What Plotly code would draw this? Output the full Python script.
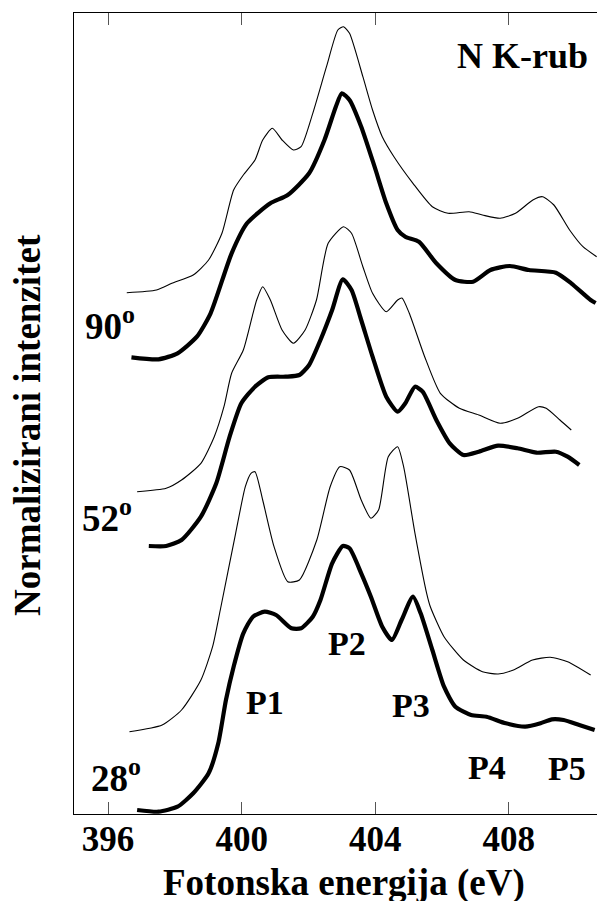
import plotly.graph_objects as go

# ---- data (photon energy in eV, normalized intensity with vertical offsets, arb. units) ----
e90_thin = [396.56, 397.45, 397.91, 398.55, 399.01, 399.41, 399.76, 400.05, 400.40, 400.63, 400.92, 401.21,
            401.55, 401.78, 402.13, 402.54, 402.88, 403.05, 403.23, 403.63, 403.92, 404.21, 404.56, 405.13,
            405.71, 406.18, 406.81, 407.21, 407.74, 408.20, 408.72, 409.01, 409.35, 409.82, 410.22, 410.63]
i90_thin = [521.3, 524.0, 530.7, 539.0, 554.0, 580.7, 624.0, 639.0, 654.0, 674.0, 685.7, 674.0,
            664.0, 667.3, 700.7, 747.3, 784.0, 787.3, 780.7, 737.3, 704.0, 677.3, 657.3, 630.7,
            607.3, 600.7, 602.3, 599.0, 595.7, 600.7, 614.0, 617.3, 609.0, 584.0, 567.3, 557.3]

e90_thick = [396.70, 397.51, 398.08, 398.66, 399.07, 399.70, 400.16, 400.86, 401.38, 402.02, 402.48, 402.82,
             403.00, 403.23, 403.58, 403.98, 404.33, 404.67, 404.90, 405.31, 405.83, 406.40, 406.93, 407.45,
             408.03, 408.60, 409.41, 409.87, 410.45, 410.60]
i90_thick = [456.7, 454.7, 460.7, 477.3, 500.7, 560.7, 590.7, 610.7, 619.0, 640.7, 674.0, 707.3,
             720.7, 714.0, 687.3, 647.3, 610.7, 584.0, 577.3, 572.3, 550.7, 534.0, 532.3, 544.0,
             548.0, 544.0, 541.3, 530.7, 514.0, 511.0]

e52_thin = [396.87, 397.74, 398.20, 398.78, 399.18, 399.47, 399.70, 400.05, 400.34, 400.45, 400.63, 400.86,
            401.21, 401.55, 401.90, 402.24, 402.59, 403.05, 403.29, 403.63, 403.92, 404.33, 404.67, 404.80,
            405.02, 405.48, 405.95, 406.52, 407.10, 407.74, 408.26, 408.89, 409.12, 409.53, 409.87]
i52_thin = [322.3, 325.7, 334.0, 350.7, 377.3, 407.3, 440.7, 464.0, 500.7, 514.0, 527.3, 514.0,
            484.0, 470.7, 484.0, 514.0, 570.7, 587.3, 580.7, 547.3, 520.7, 502.3, 514.0, 516.0,
            500.7, 457.3, 420.7, 405.7, 399.0, 390.7, 395.7, 407.3, 405.7, 394.0, 384.0]

e52_thick = [397.22, 397.74, 398.20, 398.78, 399.24, 399.64, 399.99, 400.40, 400.80, 401.32, 401.73, 402.02,
             402.36, 402.71, 403.03, 403.29, 403.58, 403.92, 404.33, 404.67, 404.90, 405.19, 405.42, 405.83,
             406.23, 406.64, 407.10, 407.68, 408.26, 408.83, 409.41, 409.76, 410.11]
i52_thick = [268.0, 268.0, 274.0, 297.3, 330.7, 377.3, 410.7, 427.3, 436.7, 437.3, 439.0, 449.0,
             474.0, 504.0, 534.7, 524.0, 494.0, 457.3, 417.3, 402.3, 410.7, 427.3, 422.3, 394.0,
             370.7, 359.0, 362.3, 368.3, 365.7, 361.3, 362.3, 357.3, 349.0]

e28_thin = [396.64, 397.62, 398.20, 398.78, 399.13, 399.36, 399.82, 400.11, 400.28, 400.40, 400.63, 400.97,
            401.38, 401.73, 402.25, 402.65, 402.94, 403.23, 403.58, 403.87, 404.10, 404.39, 404.67, 404.85,
            405.19, 405.54, 405.65, 406.06, 406.64, 407.21, 407.68, 408.14, 408.71, 409.24, 409.76, 410.45]
i28_thin = [82.3, 89.0, 104.0, 134.0, 167.3, 204.0, 280.7, 327.3, 340.7, 342.3, 314.0, 267.3,
            232.3, 234.0, 274.0, 327.3, 347.3, 344.0, 314.0, 295.7, 304.0, 357.3, 367.3, 347.3,
            280.7, 220.7, 207.3, 177.3, 154.0, 142.3, 140.0, 144.0, 154.0, 156.7, 152.3, 139.0]

e28_thick = [396.87, 397.51, 398.08, 398.55, 399.01, 399.30, 399.53, 399.76, 400.05, 400.34, 400.69, 401.03,
             401.49, 401.78, 402.13, 402.36, 402.71, 403.03, 403.23, 403.58, 403.87, 404.21, 404.50, 404.79,
             405.13, 405.36, 405.71, 406.06, 406.40, 406.87, 407.33, 407.91, 408.49, 408.95, 409.29, 409.64,
             410.11, 410.57]
i28_thick = [4.0, 2.3, 7.3, 20.7, 40.7, 70.7, 114.0, 147.3, 180.7, 197.3, 202.3, 199.0,
             185.7, 185.7, 197.3, 214.0, 250.7, 268.0, 265.7, 240.7, 217.3, 187.3, 174.0, 194.0,
             217.3, 200.7, 164.0, 127.3, 107.3, 99.0, 97.3, 90.7, 87.3, 90.7, 94.7, 94.0,
             89.0, 84.0]

x_ticks = [396, 400, 404, 408]
x_tick_labels = ["396", "400", "404", "408"]
angle_labels = ["90<sup>o</sup>", "52<sup>o</sup>", "28<sup>o</sup>"]
peak_labels = ["P1", "P2", "P3", "P4", "P5"]
edge_label = "N K-rub"
x_title = "Fotonska energija (eV)"
y_title = "Normalizirani intenzitet"

# ---- figure ----
OFF = 8                       # page body margin of the html page
W, H = 605 - OFF, 901 - OFF
L, T = 74 - OFF, 13 - OFF     # plot area in page pixels: x 74..605, y 13..814
R, B = 0, H - (814 - OFF)
PW, PH = W - L - R, H - T - B
FONT = "Liberation Serif, Times New Roman, serif"


def px(x):
    return (x - OFF - L) / PW


def py(y):
    return (H - B - (y - OFF)) / PH


fig = go.Figure()
curves = [
    (e90_thin, i90_thin, 1.1), (e90_thick, i90_thick, 4.2),
    (e52_thin, i52_thin, 1.1), (e52_thick, i52_thick, 4.2),
    (e28_thin, i28_thin, 1.1), (e28_thick, i28_thick, 4.2),
]
for xs, ys, lw in curves:
    fig.add_trace(go.Scatter(x=xs, y=ys, mode="lines",
                             line=dict(color="black", width=lw, shape="spline", smoothing=0.6),
                             showlegend=False, hoverinfo="skip"))

annotations = []
for txt, (cx, cy) in zip(angle_labels, [(110, 324), (107, 515), (116, 775)]):
    annotations.append(dict(text=txt, x=px(cx), y=py(cy), xref="paper", yref="paper",
                            showarrow=False, xanchor="center", yanchor="middle",
                            font=dict(family=FONT, size=37, color="black", weight="bold")))
for txt, (cx, cy) in zip(peak_labels, [(265, 702), (347, 643), (411, 705), (487, 767), (567, 768)]):
    annotations.append(dict(text=txt, x=px(cx), y=py(cy), xref="paper", yref="paper",
                            showarrow=False, xanchor="center", yanchor="middle",
                            font=dict(family=FONT, size=34, color="black", weight="bold")))
annotations.append(dict(text=edge_label, x=px(522), y=py(56), xref="paper", yref="paper",
                        showarrow=False, xanchor="center", yanchor="middle",
                        font=dict(family=FONT, size=36, color="black", weight="bold")))
annotations.append(dict(text=x_title, x=px(344), y=py(883), xref="paper", yref="paper",
                        showarrow=False, xanchor="center", yanchor="middle",
                        font=dict(family=FONT, size=37, color="black", weight="bold")))
annotations.append(dict(text=y_title, x=px(28), y=py(425), xref="paper", yref="paper",
                        showarrow=False, xanchor="center", yanchor="middle", textangle=-90,
                        font=dict(family=FONT, size=37, color="black", weight="bold")))

fig.update_layout(
    width=W, height=H,
    margin=dict(l=L, r=R, t=T, b=B, pad=0),
    paper_bgcolor="white", plot_bgcolor="white",
    annotations=annotations,
    xaxis=dict(range=[394.98, 410.88], tickvals=x_ticks, ticktext=x_tick_labels,
               ticks="inside", ticklen=12, tickwidth=1, tickcolor="#555",
               showline=True, linecolor="black", linewidth=1.2, mirror="ticks",
               showgrid=False, zeroline=False, ticklabelstandoff=-6,
               tickfont=dict(family=FONT, size=35, color="black", weight="bold")),
    yaxis=dict(range=[0, 801], showline=True, linecolor="black", linewidth=1.2,
               showticklabels=False, ticks="", showgrid=False, zeroline=False),
)

fig.write_html("out.html")
